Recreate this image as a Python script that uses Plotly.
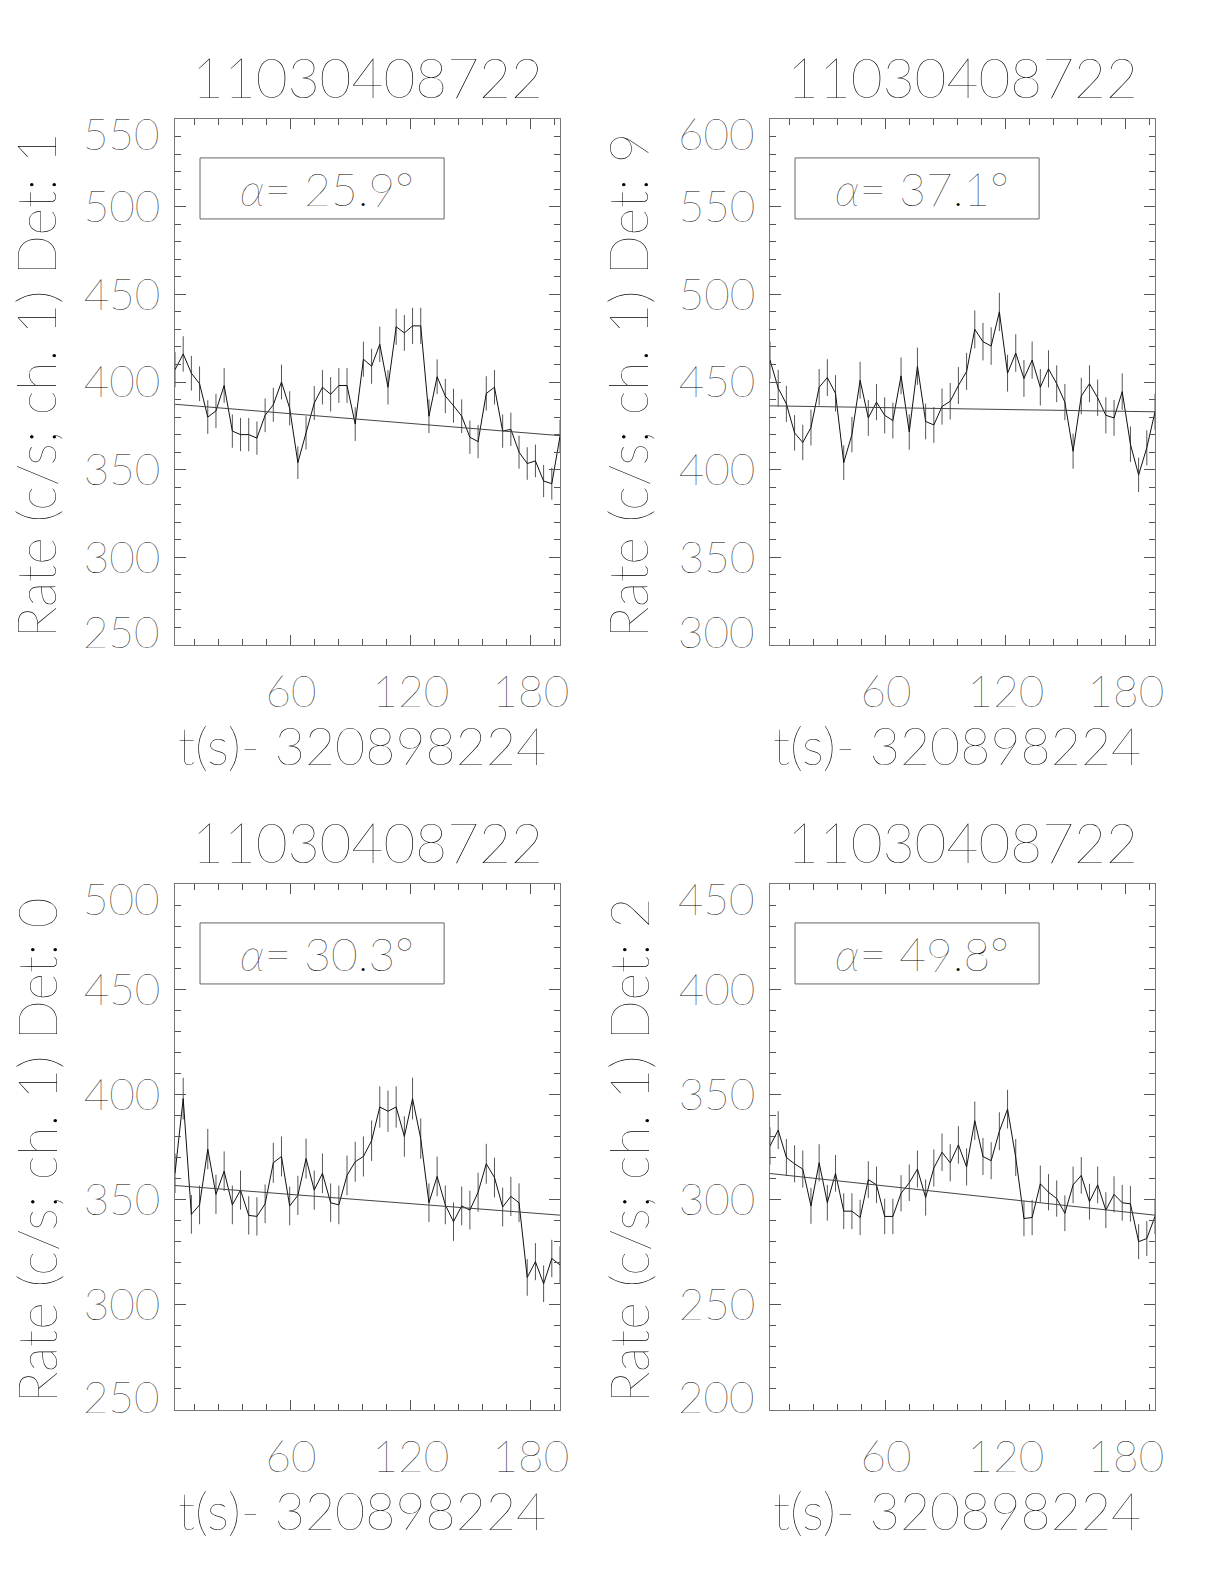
import plotly.graph_objects as go

# ---------------- data ----------------
t_sec = [2.048, 6.144, 10.24, 14.336, 18.432, 22.528, 26.624, 30.72, 34.816, 38.912,
         43.008, 47.104, 51.2, 55.296, 59.392, 63.488, 67.584, 71.68, 75.776, 79.872,
         83.968, 88.064, 92.16, 96.256, 100.352, 104.448, 108.544, 112.64, 116.736, 120.832,
         124.928, 129.024, 133.12, 137.216, 141.312, 145.408, 149.504, 153.6, 157.696, 161.792,
         165.888, 169.984, 174.08, 178.176, 182.272, 186.368, 190.464, 194.56]

panel_titles = ["11030408722", "11030408722", "11030408722", "11030408722"]
detectors = ["1", "9", "0", "2"]
alpha_deg = ["25.9", "37.1", "30.3", "49.8"]
x_title = "t(s)- 320898224"

rate_det1 = [407, 416, 405, 399, 380, 383.5, 398, 372, 370, 370,
             368, 381, 387, 400, 385, 354, 371, 388, 397, 393,
             398, 398, 376, 413, 409, 421.5, 397, 431.5, 428, 432,
             432, 380.5, 403, 392, 386.5, 380.5, 368.5, 366, 393.5, 397,
             372, 373, 360, 353.5, 355, 343.5, 342, 369]
err_det1 = [10.0, 10.1, 9.9, 9.9, 9.6, 9.7, 9.9, 9.5, 9.5, 9.5,
            9.5, 9.6, 9.7, 9.9, 9.7, 9.3, 9.5, 9.7, 9.8, 9.8,
            9.9, 9.9, 9.6, 10.0, 10.0, 10.1, 9.8, 10.3, 10.2, 10.3,
            10.3, 9.6, 9.9, 9.8, 9.7, 9.6, 9.5, 9.5, 9.8, 9.8,
            9.5, 9.5, 9.4, 9.3, 9.3, 9.2, 9.1, 9.5]
fit_det1 = [387.3, 369.4]

rate_det9 = [462.5, 446.5, 437.5, 421, 415.5, 424, 447, 452.5, 443.5, 404,
             420, 451, 429.5, 438.5, 431, 428, 453.5, 421.5, 459, 427.5,
             425.5, 436, 439, 448, 456, 480, 473, 470.5, 490, 455,
             466.5, 452, 462.5, 447, 457.5, 449, 438.5, 410.5, 442, 449,
             441, 431, 429.5, 444.5, 414.5, 397, 412.5, 433]
err_det9 = [10.6, 10.4, 10.3, 10.1, 10.1, 10.2, 10.4, 10.5, 10.4, 9.9,
            10.1, 10.5, 10.2, 10.3, 10.3, 10.2, 10.5, 10.1, 10.6, 10.2,
            10.2, 10.3, 10.4, 10.5, 10.6, 10.8, 10.7, 10.7, 10.9, 10.5,
            10.7, 10.5, 10.6, 10.4, 10.6, 10.5, 10.3, 10.0, 10.4, 10.5,
            10.4, 10.3, 10.2, 10.4, 10.1, 9.8, 10.0, 10.3]
fit_det9 = [436.4, 433.0]

rate_det0 = [362.5, 398, 343, 347.5, 374, 352.5, 363.5, 347.5, 354.5, 342.5,
             342, 348, 367.5, 370.5, 347, 352, 369.5, 354.5, 362.5, 348.5,
             347.5, 361.5, 368, 370.5, 378, 394, 392, 394, 380, 398,
             379, 348.5, 361, 347.5, 339.5, 347, 345, 353.5, 367, 360.5,
             346.5, 351.5, 348.5, 313, 320.5, 310, 322, 319]
err_det0 = [9.4, 9.9, 9.2, 9.2, 9.6, 9.3, 9.4, 9.2, 9.3, 9.1,
            9.1, 9.2, 9.5, 9.5, 9.2, 9.3, 9.5, 9.3, 9.4, 9.2,
            9.2, 9.4, 9.5, 9.5, 9.6, 9.8, 9.8, 9.8, 9.6, 9.9,
            9.6, 9.2, 9.4, 9.2, 9.1, 9.2, 9.2, 9.3, 9.5, 9.4,
            9.2, 9.3, 9.2, 8.7, 8.8, 8.7, 8.9, 8.8]
fit_det0 = [356.7, 342.6]

rate_det2 = [325.5, 333, 320, 317, 314.5, 297, 317.5, 298.5, 312.5, 294.5,
             294.5, 291.5, 309.5, 307, 292, 292, 303, 308, 314.5, 301,
             315, 322.5, 317.5, 326, 315.5, 337.5, 320.5, 318.5, 332.5, 343,
             320, 291, 291.5, 307.5, 303.5, 300.5, 293.5, 307, 311.5, 299,
             307, 295, 302.5, 298.5, 298, 280, 281.5, 292]
err_det2 = [8.9, 9.0, 8.8, 8.8, 8.8, 8.5, 8.8, 8.5, 8.7, 8.5,
            8.5, 8.4, 8.7, 8.7, 8.4, 8.4, 8.6, 8.7, 8.8, 8.6,
            8.8, 8.9, 8.8, 8.9, 8.8, 9.1, 8.8, 8.8, 9.0, 9.2,
            8.8, 8.4, 8.4, 8.7, 8.6, 8.6, 8.5, 8.7, 8.7, 8.5,
            8.7, 8.5, 8.6, 8.5, 8.5, 8.3, 8.3, 8.4]
fit_det2 = [312.4, 292.6]

y_ranges = [[250, 550], [300, 600], [250, 500], [200, 450]]
y_step = 50

rates = [rate_det1, rate_det9, rate_det0, rate_det2]
errs = [err_det1, err_det9, err_det0, err_det2]
fits = [fit_det1, fit_det9, fit_det0, fit_det2]

# ---------------- layout geometry ----------------
W, H = 1224, 1584
FONT = "Lato"
TXT = "#000000"
WT = 200
x_doms = [[175 / W, 560 / W], [770 / W, 1155 / W], [175 / W, 560 / W], [770 / W, 1155 / W]]
y_doms = [[1 - 645 / H, 1 - 119 / H], [1 - 645 / H, 1 - 119 / H],
          [1 - 1410 / H, 1 - 884 / H], [1 - 1410 / H, 1 - 884 / H]]

fig = go.Figure()
layout = dict(
    width=W, height=H, margin=dict(l=0, r=0, t=0, b=0, pad=0, autoexpand=False),
    paper_bgcolor="white", plot_bgcolor="white", showlegend=False,
    font=dict(family=FONT, color=TXT, weight=WT),
)

annotations = []
shapes = []
tick_font = dict(family=FONT, size=44, color=TXT, weight=WT)

for k in range(4):
    n = "" if k == 0 else str(k + 1)
    xa, ya = "x" + n, "y" + n
    fig.add_trace(go.Scatter(
        x=t_sec, y=rates[k], mode="lines", xaxis=xa, yaxis=ya,
        line=dict(color="#111111", width=1),
        error_y=dict(type="data", array=errs[k], visible=True, thickness=1, width=0, color="#555555"),
        hoverinfo="skip"))
    fig.add_trace(go.Scatter(
        x=[t_sec[0], t_sec[-1]], y=fits[k], mode="lines", xaxis=xa, yaxis=ya,
        line=dict(color="#444444", width=1), hoverinfo="skip"))

    lo, hi = y_ranges[k]
    inner = list(range(lo + y_step, hi, y_step))

    layout["xaxis" + n] = dict(
        domain=x_doms[k], anchor=ya, range=[t_sec[0], t_sec[-1]], automargin=False,
        tick0=0, dtick=60, ticks="inside", ticklen=10, tickwidth=1, tickcolor="#555555",
        minor=dict(tick0=0, dtick=12, ticks="inside", ticklen=6, tickwidth=1, tickcolor="#555555"),
        showline=True, linewidth=1, linecolor="#777777", mirror="allticks",
        showgrid=False, zeroline=False,
        tickfont=tick_font, ticklabelstandoff=8,
    )
    layout["yaxis" + n] = dict(
        domain=y_doms[k], anchor=xa, range=y_ranges[k], automargin=False,
        tickmode="array", tickvals=inner, ticktext=[str(v) for v in inner],
        ticks="inside", ticklen=11, tickwidth=1, tickcolor="#555555",
        minor=dict(tickmode="linear", tick0=0, dtick=10, ticks="inside", ticklen=6, tickwidth=1,
                   tickcolor="#555555"),
        showline=True, linewidth=1, linecolor="#777777", mirror="allticks",
        showgrid=False, zeroline=False,
        tickfont=tick_font, ticklabelstandoff=5,
    )

    # end-of-axis labels, nudged inside the frame
    lab_x = (x_doms[k][0] * W - 13) / W
    annotations.append(dict(text=str(hi), xref="paper", yref=ya + " domain", x=lab_x, y=1,
                            xanchor="right", yanchor="middle", yshift=-14, showarrow=False,
                            font=tick_font))
    annotations.append(dict(text=str(lo), xref="paper", yref=ya + " domain", x=lab_x, y=0,
                            xanchor="right", yanchor="middle", yshift=14, showarrow=False,
                            font=tick_font))

    xc = (x_doms[k][0] + x_doms[k][1]) / 2
    ytop = y_doms[k][1]
    ybot = y_doms[k][0]
    ymid = (ytop + ybot) / 2
    # title
    annotations.append(dict(text=panel_titles[k], xref="paper", yref="paper",
                            x=xc, y=ytop + 42 / H, xanchor="center", yanchor="middle",
                            showarrow=False, font=dict(family=FONT, size=55, color=TXT, weight=WT)))
    # y title
    ylab_x = (36 if k % 2 == 0 else 628) / W
    annotations.append(dict(text="Rate (c/s; ch. 1) Det: " + detectors[k], xref="paper", yref="paper",
                            x=ylab_x, y=ymid - 4 / H, xanchor="center", yanchor="middle", textangle=-90,
                            showarrow=False, font=dict(family=FONT, size=53, color=TXT, weight=WT)))
    # x title
    annotations.append(dict(text=x_title, xref="paper", yref="paper",
                            x=xc - 6 / W, y=ybot - 100 / H, xanchor="center", yanchor="middle",
                            showarrow=False, font=dict(family=FONT, size=52, color=TXT, weight=WT)))
    # alpha box
    shapes.append(dict(type="rect", xref=xa + " domain", yref=ya + " domain",
                       x0=0.065, x1=0.699, y0=0.810, y1=0.926,
                       line=dict(color="#666666", width=1), fillcolor="rgba(0,0,0,0)"))
    annotations.append(dict(text="<i>α</i>= " + alpha_deg[k] + "°", xref=xa + " domain", yref=ya + " domain",
                            x=0.394, y=0.868, xanchor="center", yanchor="middle",
                            showarrow=False, font=dict(family=FONT, size=46, color=TXT, weight=WT)))

layout["annotations"] = annotations
layout["shapes"] = shapes
fig.update_layout(**layout)
fig.write_html("out.html", config={"displayModeBar": False},
               post_script="document.body.style.margin='0px';document.body.style.padding='0px';")
